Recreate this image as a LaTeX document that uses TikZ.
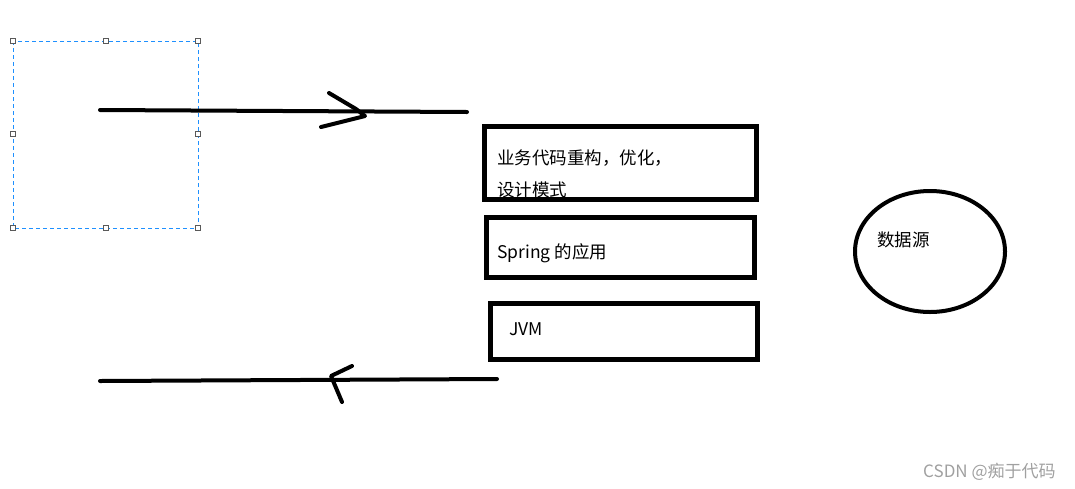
\documentclass[tikz,border=0pt]{standalone}
\usepackage{fontspec}
\newfontfamily\cjkfont{Noto Sans CJK SC}
\definecolor{selblue}{RGB}{30,144,255}
\definecolor{markgray}{RGB}{160,160,160}

\begin{document}
\begin{tikzpicture}[x=1pt,y=-1pt,
  pen/.style={line width=4pt,line cap=round,line join=round},
  layer/.style={line width=5pt},
  txt/.style={inner sep=0pt,anchor=base west,font=\cjkfont\fontsize{17.5}{20}\selectfont},
  handle/.style={draw=black!65,fill=white,line width=0.8pt,minimum size=5pt,inner sep=0pt}]
\useasboundingbox (0,0) rectangle (1075,488);
\draw[selblue,line width=1pt,dash pattern=on 4pt off 3pt] (13,41) rectangle (198,228);
\foreach \x/\y in {13/41,106/41,198/41,13/134,198/134,13/228,106/228,198/228}
  \node[handle] (h-\x-\y) at (\x,\y) {};
\coordinate (in1) at (100,110);
\coordinate (in2) at (467,112);
\draw[pen] (in1) -- (in2);
\draw[pen] (329,93) -- (356,109) -- (365,116) -- (321,127);
\coordinate (out1) at (497,379);
\coordinate (out2) at (100,381);
\draw[pen] (out1) -- (out2);
\draw[pen] (352,366) -- (331,376) -- (342,402);
\node[txt] (biz1) at (497,164.5) {业务代码重构，优化，};
\node[txt] (biz2) at (497,196.5) {设计模式};
\node[txt] (spring) at (497,258) {Spring 的应用};
\node[txt] (jvm) at (509,335) {JVM};
\node[txt] (ds) at (877,246) {数据源};
\draw[layer] (484,126) rectangle (756,199);
\draw[layer] (486,217) rectangle (754,277);
\draw[layer] (490,303) rectangle (757,359);
\draw[pen] (930,251.5) ellipse [x radius=75pt,y radius=60.5pt];
\node[txt,markgray,font=\cjkfont\fontsize{17}{19}\selectfont] (mark) at (923,477) {CSDN @痴于代码};
\end{tikzpicture}
\end{document}
